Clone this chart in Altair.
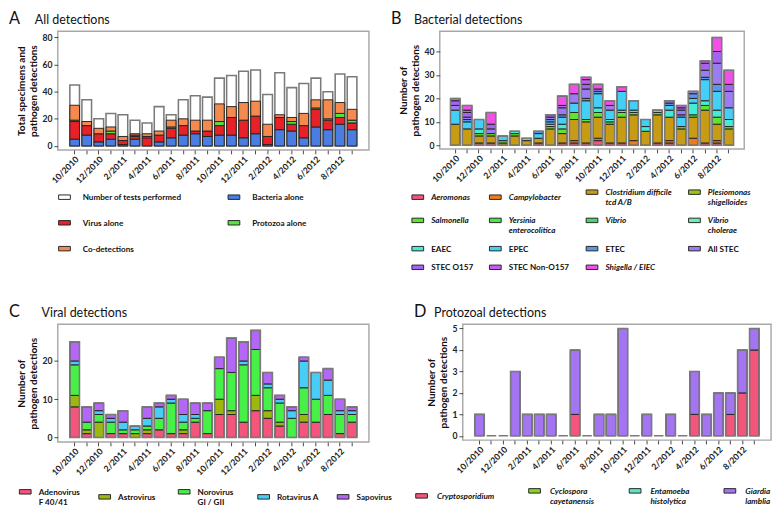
import altair as alt
import pandas as pd

FONT = "Lato"

months = ["10/2010", "11/2010", "12/2010", "1/2011", "2/2011", "3/2011", "4/2011", "5/2011",
          "6/2011", "7/2011", "8/2011", "9/2011", "10/2011", "11/2011", "12/2011", "1/2012",
          "2/2012", "3/2012", "4/2012", "5/2012", "6/2012", "7/2012", "8/2012", "9/2012"]

# ---- Panel A: all detections
a_tests = [45, 34, 20, 24, 23, 19, 17, 29, 23, 34, 37, 36, 50, 52, 55, 56, 38, 54, 43, 46, 50, 40, 53, 51]
a_bacteria = [5, 8, 3, 5, 1, 5, 0, 3, 6, 8, 9, 7, 8, 8, 6, 9, 1, 12, 11, 6, 14, 12, 16, 12]
a_virus = [13, 7, 6, 4, 3, 2, 6, 5, 7, 7, 2, 4, 7, 13, 13, 13, 6, 9, 5, 9, 13, 7, 5, 5]
a_protozoa = [1, 0, 0, 2, 0, 1, 1, 0, 1, 0, 0, 0, 3, 0, 0, 0, 0, 0, 2, 0, 1, 1, 3, 2]
a_codet = [11, 3, 4, 3, 3, 1, 2, 3, 5, 5, 8, 8, 13, 8, 13, 11, 9, 2, 3, 9, 6, 14, 8, 8]
a_cats = ["Number of tests performed", "Bacteria alone", "Virus alone", "Protozoa alone", "Co-detections"]
a_colors = ["#ffffff", "#4a7de2", "#e82128", "#52e63c", "#f48a4e"]

# ---- Panel B: bacterial detections
b_aeromonas = [0, 0, 1, 1, 0, 0, 0, 1, 0, 1, 1, 1, 2, 1, 1, 0, 0, 1, 1, 0, 0, 1, 1, 0]
b_campylobacter = [0, 0, 0, 0, 0, 0, 0, 0, 0, 0, 1, 0, 1, 0, 0, 2, 0, 0, 1, 0, 3, 0, 1, 0]
b_cdiff = [9, 7, 3, 3, 1, 4, 2, 2, 7, 4, 9, 9, 9, 8, 11, 11, 6, 12, 10, 7, 9, 14, 7, 7]
b_plesiomonas = [0] * 24
b_salmonella = [0, 0, 1, 1, 1, 1, 0, 0, 1, 2, 3, 1, 2, 1, 2, 1, 0, 1, 0, 1, 1, 2, 3, 1]
b_yersinia = [0] * 24
b_vibrio = [0] * 24
b_vcholerae = [0] * 24
b_eaec = [0, 0, 2, 0, 0, 1, 1, 0, 1, 2, 0, 0, 2, 1, 1, 1, 2, 1, 3, 0, 5, 2, 3, 3]
b_epec = [6, 3, 4, 0, 2, 0, 0, 2, 1, 3, 4, 8, 6, 4, 8, 4, 3, 0, 2, 4, 2, 9, 8, 5]
b_etec = [0, 1, 0, 0, 0, 0, 0, 1, 1, 1, 0, 1, 1, 0, 0, 0, 0, 0, 1, 1, 2, 1, 3, 0]
b_allstec = [2, 1, 0, 2, 0, 0, 0, 0, 1, 3, 4, 4, 1, 2, 0, 0, 0, 0, 1, 2, 1, 3, 9, 7]
b_o157 = [2, 2, 0, 2, 0, 0, 0, 0, 1, 0, 0, 2, 0, 0, 0, 0, 0, 0, 0, 1, 0, 3, 5, 3]
b_nono157 = [1, 1, 0, 0, 0, 0, 0, 0, 0, 1, 0, 2, 0, 0, 0, 0, 0, 0, 0, 1, 0, 1, 0, 0]
b_shigella = [0, 2, 0, 5, 0, 0, 0, 0, 0, 4, 4, 1, 2, 2, 2, 0, 0, 0, 0, 0, 0, 0, 6, 6]
b_cats = ["Aeromonas", "Campylobacter", "Clostridium difficile|tcd A/B", "Plesiomonas|shigelloides",
          "Salmonella", "Yersinia|enterocolitica", "Vibrio", "Vibrio|cholerae",
          "EAEC", "EPEC", "ETEC", "All STEC", "STEC O157", "STEC Non-O157", "Shigella / EIEC"]
b_colors = ["#f4557a", "#f07a1e", "#c89b14", "#9cc21a", "#5ee62a", "#48e848", "#44d86a", "#6af0b0",
            "#44ecd6", "#44cff6", "#5a98e6", "#9b7cf2", "#a463f0", "#c35ef2", "#f24fe8"]
b_series = [b_aeromonas, b_campylobacter, b_cdiff, b_plesiomonas, b_salmonella, b_yersinia, b_vibrio,
            b_vcholerae, b_eaec, b_epec, b_etec, b_allstec, b_o157, b_nono157, b_shigella]
b_upright = ["EAEC", "EPEC", "ETEC", "All STEC", "STEC O157", "STEC Non-O157"]

# ---- Panel C: viral detections
c_adeno = [8, 1, 0, 1, 1, 0, 1, 2, 1, 1, 4, 1, 6, 6, 4, 7, 5, 3, 0, 4, 4, 6, 1, 4]
c_astro = [3, 1, 4, 0, 0, 1, 1, 0, 0, 1, 0, 0, 4, 1, 0, 4, 2, 1, 0, 2, 0, 0, 0, 0]
c_noro = [8, 2, 2, 3, 1, 1, 1, 3, 8, 2, 1, 6, 8, 10, 15, 12, 6, 5, 5, 7, 6, 5, 5, 2]
c_rota = [1, 0, 1, 1, 2, 1, 2, 3, 1, 2, 1, 0, 0, 0, 1, 0, 1, 1, 2, 7, 7, 4, 1, 1]
c_sapo = [5, 4, 2, 1, 3, 0, 3, 1, 1, 4, 3, 2, 3, 9, 5, 5, 3, 1, 1, 1, 0, 3, 3, 1]
c_cats = ["Adenovirus|F 40/41", "Astrovirus", "Norovirus|GI / GII", "Rotavirus A", "Sapovirus"]
c_colors = ["#f4557a", "#9cb70e", "#46f046", "#48cdf6", "#b466f6"]
c_series = [c_adeno, c_astro, c_noro, c_rota, c_sapo]

# ---- Panel D: protozoal detections
d_crypto = [0, 0, 0, 0, 0, 0, 0, 0, 1, 0, 0, 0, 0, 0, 0, 0, 0, 0, 1, 0, 0, 1, 2, 4]
d_cyclospora = [0] * 24
d_entamoeba = [0] * 24
d_giardia = [1, 0, 0, 3, 1, 1, 1, 0, 3, 0, 1, 1, 5, 0, 1, 0, 1, 0, 2, 1, 2, 1, 2, 1]
d_cats = ["Cryptosporidium", "Cyclospora|cayetanensis", "Entamoeba|histolytica", "Giardia|lamblia"]
d_colors = ["#f4557a", "#86d424", "#5ae8c4", "#a475f2"]
d_series = [d_crypto, d_cyclospora, d_entamoeba, d_giardia]

RECT = "M-1,-0.38H1V0.38H-1Z"
LABEL_EXPR = "toNumber(split(datum.value, '/')[0]) % 2 == 0 ? datum.value : ''"


def long_df(cats, series):
    rows = []
    for ci, (c, vals) in enumerate(zip(cats, series)):
        for m, v in zip(months, vals):
            rows.append({"month": m, "cat": c, "value": v, "ord": ci})
    return pd.DataFrame(rows)


def totals_df(series):
    return pd.DataFrame({"month": months, "value": [sum(t) for t in zip(*series)]})


def x_enc(pad_outer):
    return alt.X("month:N", sort=months,
                 scale=alt.Scale(paddingInner=0.2, paddingOuter=pad_outer),
                 axis=alt.Axis(title=None, labelAngle=-45, labelExpr=LABEL_EXPR, labelOverlap=False,
                               labelFontSize=9, labelFontWeight="bold", tickSize=4, labelPadding=1,
                               domain=False))


def y_enc(domain, ticks, title):
    return alt.Y("value:Q", stack="zero",
                 scale=alt.Scale(domain=domain, nice=False, zero=False),
                 axis=alt.Axis(title=title, values=ticks, labelFontSize=9, labelFontWeight="bold",
                               tickSize=4, labelPadding=2, domain=False, grid=False,
                               titleFontSize=10.5, titleFontWeight="bold", titlePadding=4))


def header(letter, title, lx, tx):
    l = alt.Chart(pd.DataFrame({"t": [letter]})).mark_text(
        align="left", baseline="alphabetic", fontSize=17, font=FONT, color="#111"
    ).encode(text="t:N", x=alt.value(lx), y=alt.value(-8))
    t = alt.Chart(pd.DataFrame({"t": [title]})).mark_text(
        align="left", baseline="alphabetic", fontSize=13, font=FONT, color="#111"
    ).encode(text="t:N", x=alt.value(tx), y=alt.value(-8))
    return l, t


def make_legend(cats, italic_expr, lx, ly, columns, row_pad, col_pad, offset, grid_align):
    return alt.Legend(title=None, orient="none", legendX=lx, legendY=ly, columns=columns,
                      direction="horizontal", offset=0,
                      symbolType=RECT, symbolSize=150, symbolStrokeColor="#222", symbolStrokeWidth=1,
                      symbolOpacity=1, labelFont=FONT, labelFontSize=8.5, labelFontWeight="bold",
                      labelFontStyle={"expr": italic_expr}, labelExpr="split(datum.label, '|')",
                      labelColor="#111", rowPadding=row_pad, columnPadding=col_pad, labelOffset=offset,
                      gridAlign=grid_align, padding=0, labelLimit=200)


def stacked_panel(letter, title, cats, colors, series, legend, ydomain, yticks, ytitle,
                  width, height, pad_outer, lx, tx):
    df = long_df(cats, series)
    df = df[df["value"] > 0]
    x = x_enc(pad_outer)
    y = y_enc(ydomain, yticks, ytitle)
    bars = alt.Chart(df).mark_bar(stroke="#222", strokeWidth=1).encode(
        x=x, y=y,
        color=alt.Color("cat:N", scale=alt.Scale(domain=cats, range=colors), legend=legend),
        order=alt.Order("ord:Q"))
    outline = alt.Chart(totals_df(series)).mark_bar(
        fillOpacity=0, stroke="#7a7a7a", strokeWidth=1.6).encode(x=x, y=y)
    l, t = header(letter, title, lx, tx)
    return alt.layer(bars, outline, l, t).properties(width=width, height=height)


# ---- Panel A chart
a_legend = make_legend(a_cats, "'normal'", 0, 166, 2, 15, 45, 12, "each")
a_det_cats = a_cats[1:]
a_det_series = [a_bacteria, a_virus, a_protozoa, a_codet]
a_df = long_df(a_det_cats, a_det_series)
a_df["ord"] = a_df["ord"] + 1
a_df = a_df[a_df["value"] > 0]
a_tests_df = pd.DataFrame({"month": months, "value": a_tests, "cat": a_cats[0]})
xa = x_enc(1.0)
ya = y_enc([-3, 84.5], [0, 20, 40, 60, 80], ["Total specimens and", "pathogen detections"])
a_color = alt.Color("cat:N", scale=alt.Scale(domain=a_cats, range=a_colors), legend=a_legend)
a_tests_bars = alt.Chart(a_tests_df).mark_bar(stroke="#7a7a7a", strokeWidth=1.6).encode(
    x=xa, y=ya, color=a_color)
a_det_bars = alt.Chart(a_df).mark_bar(stroke="#222", strokeWidth=1).encode(
    x=xa, y=ya, color=a_color, order=alt.Order("ord:Q"))
la, ta = header("A", "All detections", -51, -24)
panel_a = alt.layer(a_tests_bars, a_det_bars, la, ta).properties(width=325, height=124)

# ---- Panel B chart
b_italic = "indexof(" + str(b_upright) + ", datum.value) >= 0 ? 'normal' : 'italic'"
b_legend = make_legend(b_cats, b_italic, -30, 161, 4, 7.5, 14, 7, "each")
panel_b = stacked_panel("B", "Bacterial detections", b_cats, b_colors, b_series, b_legend,
                        [-1.6, 48.6], [0, 10, 20, 30, 40], ["Number of", "pathogen detections"],
                        318, 123, 0.9, -51, -27)

# ---- Panel C chart
c_legend = make_legend(c_cats, "'normal'", -41, 168, 5, 4, 16, 7, "all")
panel_c = stacked_panel("C", "Viral detections", c_cats, c_colors, c_series, c_legend,
                        [-1.2, 29.6], [0, 10, 20], ["Number of", "pathogen detections"],
                        325, 123, 1.0, -51, -17)

# ---- Panel D chart
d_legend = make_legend(d_cats, "'italic'", -50, 167, 4, 4, 33, 9, "each")
panel_d = stacked_panel("D", "Protozoal detections", d_cats, d_colors, d_series, d_legend,
                        [-0.2, 5.2], [0, 1, 2, 3, 4, 5], ["Number of", "pathogen detections"],
                        322, 121, 1.0, -51, -30)

row1 = alt.hconcat(panel_a, panel_b, spacing=21).resolve_scale(color="independent").resolve_legend(color="independent")
row2 = alt.hconcat(panel_c, panel_d, spacing=21).resolve_scale(color="independent").resolve_legend(color="independent")

chart = alt.vconcat(row1, row2, spacing=31).resolve_scale(
    color="independent").resolve_legend(color="independent").configure_view(
    stroke="#a8a8a8", strokeWidth=1.5).configure_axis(
    labelFont=FONT, titleFont=FONT, labelColor="#222", titleColor="#111", tickColor="#444").properties(
    padding={"left": 0, "top": -10, "right": 0, "bottom": 0})

chart.save("out.html", embed_options={"renderer": "svg", "actions": False})
